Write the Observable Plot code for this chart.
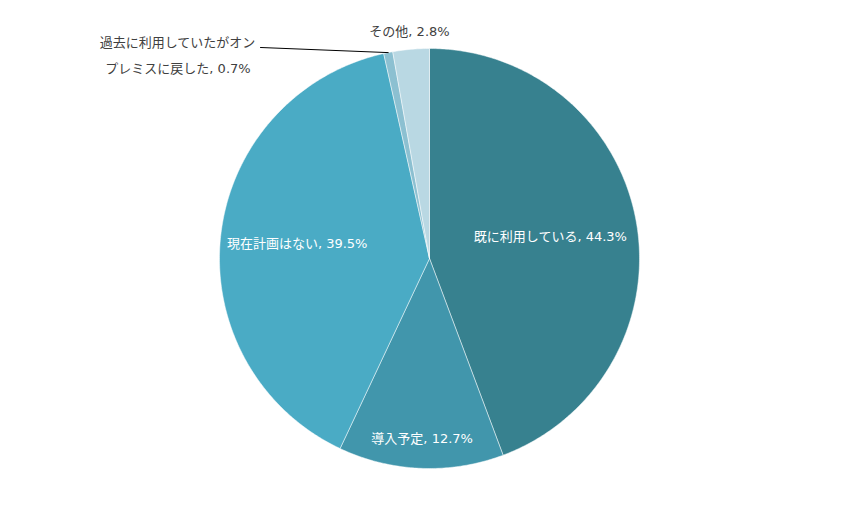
<!DOCTYPE html>
<html>
<head>
<meta charset="utf-8">
<script src="https://cdn.jsdelivr.net/npm/d3@7"></script>
<script src="https://cdn.jsdelivr.net/npm/@observablehq/plot@0.6"></script>
<style>
  html, body { margin: 0; padding: 0; background: #fff; }
  #chart svg { display: block; }
</style>
</head>
<body>
<div id="chart"></div>
<script>
// ---- data ----
const categories = ["既に利用している", "導入予定", "現在計画はない", "過去に利用していたがオンプレミスに戻した", "その他"];
const shares = [44.3, 12.7, 39.5, 0.7, 2.8];
const colors = ["#37818f", "#4196ac", "#4aabc5", "#8cc0d1", "#b9d8e3"];

// ---- label placement (styling, not data) ----
const insideRadius = [0.585, 0.858, 0.634, null, null];

const W = 858, H = 516, R = 210;
const cx = W / 2, cy = H / 2;

// build slice polygons in unit-radius coordinates (y up, clockwise from top)
const total = d3.sum(shares);
let acc = 0;
const polys = [];
const slices = categories.map((c, i) => {
  const a0 = acc / total * 2 * Math.PI;
  acc += shares[i];
  const a1 = acc / total * 2 * Math.PI;
  const n = Math.max(2, Math.ceil((a1 - a0) / 0.01));
  polys.push({cat: c, x: 0, y: 0});
  for (let k = 0; k <= n; k++) {
    const a = a0 + (a1 - a0) * k / n;
    polys.push({cat: c, x: Math.sin(a), y: Math.cos(a)});
  }
  polys.push({cat: c, x: 0, y: 0});
  return {cat: c, v: shares[i], a0, a1, mid: (a0 + a1) / 2};
});

const pct = v => v.toFixed(1) + "%";
const inLabels = slices
  .map((s, i) => insideRadius[i] ? {text: s.cat + ", " + pct(s.v), x: insideRadius[i] * Math.sin(s.mid), y: insideRadius[i] * Math.cos(s.mid)} : null)
  .filter(d => d);

// outside labels
const otherSlice = slices[4];
const pastSlice = slices[3];
const outLabels = [
  {text: otherSlice.cat + ", " + pct(otherSlice.v), x: -20 / R, y: 227 / R},
  {text: "過去に利用していたがオン", x: -252 / R, y: 216 / R},
  {text: "プレミスに戻した, " + pct(pastSlice.v), x: -251.5 / R, y: 190 / R}
];
const edge = {x: Math.sin(pastSlice.mid), y: Math.cos(pastSlice.mid)};
const leader = [
  {x: -169 / R, y: 211 / R},
  {x: edge.x, y: edge.y}
];

const font = "'DejaVu Sans', 'Noto Sans CJK JP', sans-serif";
const chart = Plot.plot({
  width: W,
  height: H,
  margin: 0,
  x: {domain: [-cx / R, cx / R], axis: null},
  y: {domain: [-cy / R, cy / R], axis: null},
  color: {domain: categories, range: colors},
  style: {fontFamily: font, background: "#fff"},
  marks: [
    Plot.line(polys, {x: "x", y: "y", z: "cat", fill: "cat", stroke: "#ffffff", strokeWidth: 0.8, strokeOpacity: 0.6, curve: "linear-closed"}),
    Plot.line(leader, {x: "x", y: "y", stroke: "#000", strokeWidth: 1}),
    Plot.text(inLabels, {x: "x", y: "y", text: "text", fill: "#ffffff", fontSize: 13}),
    Plot.text(outLabels, {x: "x", y: "y", text: "text", fill: "#404040", fontSize: 13})
  ]
});
document.getElementById("chart").appendChild(chart);
</script>
</body>
</html>
